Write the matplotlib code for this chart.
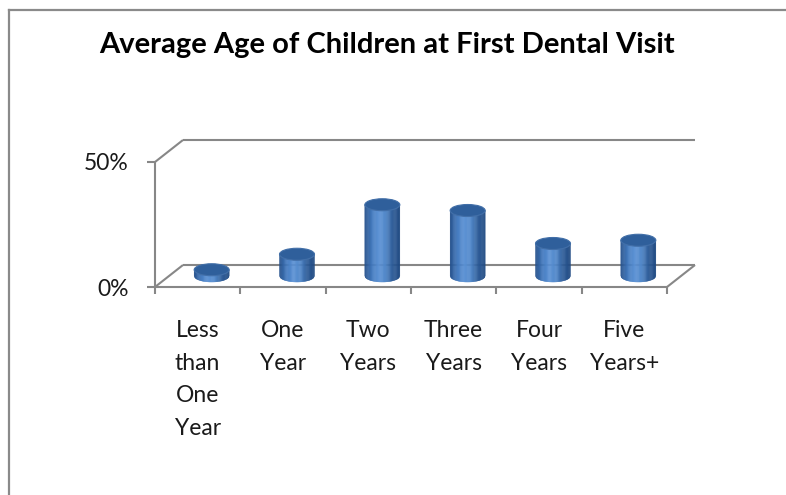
import numpy as np
import matplotlib
matplotlib.use('Agg')
import matplotlib.pyplot as plt
from matplotlib.patches import Ellipse, Polygon
from matplotlib.lines import Line2D
from matplotlib.transforms import Affine2D, IdentityTransform
from matplotlib.colors import LinearSegmentedColormap

# data
categories = ['Less\nthan\nOne\nYear', 'One\nYear', 'Two\nYears', 'Three\nYears',
              'Four\nYears', 'Five\nYears+']
values = [2.5, 8.7, 28.5, 26.2, 13.0, 14.3]
yticks = [0, 50]
ytick_labels = ['0%', '50%']
title = 'Average Age of Children at First Dental Visit'

plt.rcParams['font.family'] = ['Lato', 'DejaVu Sans']

W, H = 786, 495
fig = plt.figure(figsize=(W / 100, H / 100), dpi=100)
ax = fig.add_axes([155 / W, 208 / H, 512 / W, 125 / H])
ax.set_xlim(0, len(categories))
ax.set_ylim(0, 50)
for s in ax.spines.values():
    s.set_visible(False)

grey = '#878787'
lw = 1.5
depth = (28, 22)          # pixel offset of back wall
mid = Affine2D().translate(depth[0] / 2, depth[1] / 2)


def disp(x, y, d):
    px, py = ax.transData.transform((x, y))
    return px + depth[0] * d, py + depth[1] * d


def seg(p, q):
    a, b = disp(*p), disp(*q)
    ax.add_line(Line2D([a[0], b[0]], [a[1], b[1]], color=grey, lw=lw,
                       transform=IdentityTransform(), clip_on=False,
                       solid_capstyle='butt', zorder=1))


n = len(categories)
# walls and floor
seg((0, 0, 0), (n, 0, 0))
seg((0, 0, 0), (0, 50, 0))
seg((0, 0, 0), (0, 0, 1))
seg((0, 50, 0), (0, 50, 1))
seg((0, 50, 1), (n, 50, 1))
seg((0, 0, 1), (n, 0, 1))
seg((n, 0, 0), (n, 0, 1))

# ticks
ax.set_xticks(range(n + 1))
ax.set_xticklabels([])
ax.set_xticks(np.arange(n) + 0.5, minor=True)
ax.set_xticklabels(categories, minor=True, fontsize=16.5, color='#1a1a1a',
                   linespacing=1.68, va='top')
ax.tick_params(axis='x', which='major', direction='out', length=5, width=lw, color=grey)
ax.tick_params(axis='x', which='minor', length=0, pad=24)
ax.set_yticks(yticks)
ax.set_yticklabels(ytick_labels, fontsize=16.5, color='#1a1a1a')
ax.tick_params(axis='y', direction='out', length=6, width=lw, color=grey, pad=13)

# cylinders
cmap = LinearSegmentedColormap.from_list(
    'cyl', ['#24508c', '#3f77bd', '#5a91d5', '#4f86c9', '#2c5b98', '#1f4a83'])
bw = 0.41
eh = 4.8
strips = 40
tr = ax.transData + mid
for i, v in enumerate(values):
    c = i + 0.5
    xs = np.linspace(c - bw / 2, c + bw / 2, strips + 1)
    yb = -eh / 2 * np.sqrt(np.clip(1 - ((xs - c) / (bw / 2)) ** 2, 0, 1))
    for k in range(strips):
        col = cmap(k / (strips - 1))
        poly = Polygon([(xs[k], yb[k]), (xs[k + 1], yb[k + 1]), (xs[k + 1], v), (xs[k], v)],
                       closed=True, facecolor=col, edgecolor=col, lw=0.3,
                       transform=tr, clip_on=False, zorder=3)
        ax.add_patch(poly)
    ax.add_patch(Ellipse((c, v), bw, eh, facecolor='#2f5f9b', edgecolor='#426fa8',
                         lw=0.8, transform=tr, clip_on=False, zorder=4))

fig.text(386.5 / W, 1 - 45 / H, title, ha='center', va='center',
         fontsize=21, fontweight='bold', color='black')

# outer frame
fig.add_artist(Line2D([9 / W, 1], [1 - 10 / H, 1 - 10 / H], color='#8a8a8a', lw=1.6,
                      transform=fig.transFigure))
fig.add_artist(Line2D([9 / W, 9 / W], [0, 1 - 10 / H], color='#8a8a8a', lw=1.6,
                      transform=fig.transFigure))

fig.savefig('out.png', dpi=100)
